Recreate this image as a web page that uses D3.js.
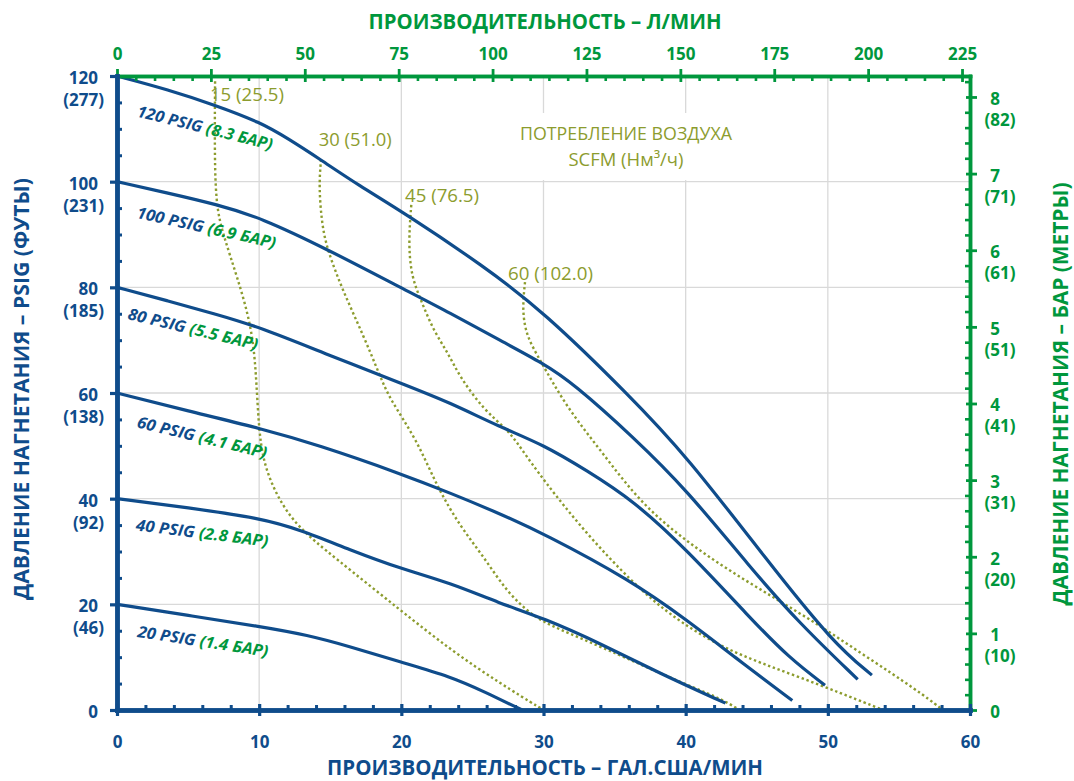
<!DOCTYPE html>
<html><head><meta charset="utf-8">
<script src="https://cdn.jsdelivr.net/npm/d3@7"></script>
<style>
body{margin:0;background:#fff}
svg{display:block}
text{font-family:"Open Sans","Noto Sans",sans-serif}
</style>
</head><body>
<svg id="c" width="1074" height="781"></svg>
<script>
// ---------- DATA ----------
const gpmTicks = [0,10,20,30,40,50,60];
const lpmTicks = [0,25,50,75,100,125,150,175,200,225];
const psiTicks = [0,20,40,60,80,100,120];
const psiFeet  = ["","(46)","(92)","(138)","(185)","(231)","(277)"];
const barTicks = [0,1,2,3,4,5,6,7,8];
const barMeters= ["","(10)","(20)","(31)","(41)","(51)","(61)","(71)","(82)"];

const pressureLevels = [120,100,80,60,40,20];
const pressureBar    = ["8.3","6.9","5.5","4.1","2.8","1.4"];

// flow (US GPM), discharge pressure (psig)
const curve120 = [[0,120],[3.5,117.5],[7,114.4],[10.1,111.2],[12,108.2],[14.3,104.2],[17,99.3],[20.2,94.1],[25.8,84.0],[30,75.4],[35.9,59.9],[40.1,48.0],[45.7,28.4],[50.4,12.6],[53.1,6.6]];
const curve100 = [[0,100],[3.5,97.9],[7,95.7],[10.1,93.2],[14.8,87.2],[20.2,79.6],[23.4,75.2],[26.9,70.0],[30,65.6],[32.1,61.8],[36.3,51.7],[40.1,41.6],[44.5,27.1],[48,16.4],[52.1,5.8]];
const curve80  = [[0,80],[3.5,77.5],[7,74.9],[10.1,72.4],[14.5,67.6],[20.2,61.6],[23.4,58.2],[26.9,53.6],[30,50.2],[33,45.4],[36.3,39.7],[40.1,30.3],[44.5,17.5],[47.3,9.8],[49.8,4.7]];
const curve60  = [[0,60],[5,56.6],[10.1,53.3],[14.1,50.2],[19.9,44.8],[23.5,41.0],[26.9,37.2],[30,33.4],[36.1,24.6],[40.1,17.0],[43.4,10.1],[47.5,1.8]];
const curve40  = [[0,40],[5,38.3],[10.1,36.3],[12.9,34.1],[16.4,30.3],[19.9,26.8],[23.5,24.0],[26.9,20.2],[30,17.4],[34,12.6],[38.2,6.9],[42.8,1.3]];
const curve20  = [[0,20],[5,17.9],[10.1,15.8],[13.4,14.2],[16.4,12.0],[19.9,9.1],[23.5,6.3],[25.8,3.5],[28.5,0]];
const pressureCurves = [curve120,curve100,curve80,curve60,curve40,curve20];

const airLevels = [15,30,45,60];
const airNm3    = ["25.5","51.0","76.5","102.0"];
const air15 = [[6.9,119],[6.87,108.6],[6.92,95.7],[7.5,89.7],[8.44,82.1],[9.5,72.4],[9.8,63],[9.96,53.6],[10.3,46.7],[11.25,40.4],[12.66,34.7],[15.24,29.0],[19.93,18.9],[23.45,11.4],[26.96,5.0],[30,0]];
const air30 = [[14.35,104.2],[14.2,99.2],[14.4,92.2],[14.77,87.2],[15.94,79],[17.35,70.8],[18.5,63.2],[19.2,58.8],[21.1,51.1],[22.5,42.3],[24.15,34.7],[25.8,29.0],[27.4,22.4],[29.3,17.6],[31,15.4],[34,12.0],[36.5,9.0],[38.2,7.0],[40.5,4.3],[42.5,2.1],[43.8,0]];
const air45 = [[20.7,95.6],[20.5,88.5],[20.7,82],[21.45,77.1],[22.25,71.9],[23.3,67.5],[24.1,63.1],[25.8,56.8],[27.5,53.0],[28.35,49.8],[30,43.5],[33,33.4],[36.1,24.6],[38.7,18.3],[42.65,11.4],[48,6.3],[53.9,0]];
const air60 = [[28.7,81.0],[28.5,75.7],[28.8,70.7],[29.75,66.3],[31.6,57.4],[34,49.2],[36.3,41.0],[38.7,34.7],[42.2,27.8],[45.7,22.1],[49.2,16.4],[52.7,10.1],[56.25,3.8],[58.1,0]];
const airCurves = [air15,air30,air45,air60];

// ---------- LAYOUT / STYLE ----------
const BLUE="#0f4c8b", GREEN="#00973d", OLIVE="#8c9c2e", GRID="#d9d9d9";
const LPM=3.78541, PSI_PER_BAR=14.5038;
const svg=d3.select("#c");
const x=d3.scaleLinear().domain([0,60]).range([117,970]);
const y=d3.scaleLinear().domain([0,120]).range([710,76]);
const xTop=d3.scaleLinear().domain([0,60*LPM]).range([117,970]);
const yRight=d3.scaleLinear().domain([0,120/PSI_PER_BAR]).range([710,76]);

function setLen(t,w){return t.attr("textLength",w).attr("lengthAdjust","spacingAndGlyphs");}

// grid
svg.append("g").selectAll("line").data([10,20,30,40,50]).join("line")
  .attr("x1",d=>x(d)).attr("x2",d=>x(d)).attr("y1",y(0)).attr("y2",y(120))
  .attr("stroke",GRID).attr("stroke-width",1.3);
svg.append("g").selectAll("line").data([20,40,60,80,100]).join("line")
  .attr("x1",x(0)).attr("x2",x(60)).attr("y1",d=>y(d)).attr("y2",d=>y(d))
  .attr("stroke",GRID).attr("stroke-width",1.3);
// white box behind air consumption title
svg.append("rect").attr("x",x(27.4)).attr("y",y(113)).attr("width",x(44.2)-x(27.4)).attr("height",y(100.3)-y(113)).attr("fill","#fff");

const line=d3.line().x(d=>x(d[0])).y(d=>y(d[1])).curve(d3.curveBasis);

// air consumption curves
svg.append("g").selectAll("path").data(airCurves).join("path")
  .attr("d",line).attr("fill","none").attr("stroke",OLIVE)
  .attr("stroke-width",2.4).attr("stroke-dasharray","2.4,2.7");

// pressure curves
svg.append("g").selectAll("path").data(pressureCurves).join("path")
  .attr("d",line).attr("fill","none").attr("stroke",BLUE).attr("stroke-width",3.2);

// pressure labels
const plGpm=[6.2,6.3,5.35,6.0,6.0,6.05], plPsi=[110.2,91.3,72.1,51.6,33.5,13.0];
const plAngle=[14,12.5,13.5,13.5,7,8.7], plLen=[139,142,133,133,133,132];
pressureLevels.forEach((p,i)=>{
  const t=svg.append("text").attr("font-size",16).attr("font-weight","bold").attr("font-style","italic")
    .attr("text-anchor","middle").attr("dy","0.35em")
    .attr("transform",`translate(${x(plGpm[i])},${y(plPsi[i])}) rotate(${plAngle[i]})`);
  t.append("tspan").attr("fill",BLUE).text(`${p} PSIG `);
  t.append("tspan").attr("fill",GREEN).text(`(${pressureBar[i]} БАР)`);
  setLen(t,plLen[i]);
});

// air labels
const alGpm=[6.54,14.19,20.26,27.5], alPsi=[115.2,106.8,96.2,81.4], alLen=[74,73,74,85];
airLevels.forEach((a,i)=>{
  const t=svg.append("text").attr("x",x(alGpm[i])).attr("y",y(alPsi[i]))
    .attr("font-size",17.5).attr("fill",OLIVE).text(`${a} (${airNm3[i]})`);
  setLen(t,alLen[i]);
});
setLen(svg.append("text").attr("x",626).attr("y",140).attr("text-anchor","middle")
  .attr("font-size",19).attr("fill",OLIVE).text("ПОТРЕБЛЕНИЕ ВОЗДУХА"),212);
setLen(svg.append("text").attr("x",626).attr("y",166).attr("text-anchor","middle")
  .attr("font-size",19).attr("fill",OLIVE).text("SCFM (Нм³/ч)"),115);

// ---------- AXES ----------
function range(a,b,s){const r=[];for(let v=a;v<=b+1e-9;v+=s)r.push(+v.toFixed(4));return r;}
const lpmMinor=range(0,225,5).filter(v=>v%25!==0);
const barMinor=range(0,8.2,0.2).filter(v=>Math.abs(v-Math.round(v))>1e-6);
const psiMinor=range(0,120,5).filter(v=>v%20!==0);
const gpmMinor=range(0,60,2).filter(v=>v%10!==0);

function styleAxis(g,color,dw,tw){
  g.select(".domain").attr("stroke",color).attr("stroke-width",dw).attr("stroke-linecap","square");
  g.selectAll(".tick line").attr("stroke",color).attr("stroke-width",tw);
  g.selectAll(".tick text").remove();
}
// top (green)
const gTm=svg.append("g").attr("transform",`translate(0,${y(120)})`)
  .call(d3.axisTop(xTop).tickValues(lpmMinor).tickSize(-5).tickSizeOuter(0)); styleAxis(gTm,GREEN,3.5,2.6);
const gT=svg.append("g").attr("transform",`translate(0,${y(120)})`)
  .call(d3.axisTop(xTop).tickValues(lpmTicks).tickSize(7).tickSizeOuter(0)); styleAxis(gT,GREEN,3.5,2.8);
gT.selectAll(".tick line").attr("y1",6);
gT.selectAll(".tick").append("text").attr("y",-16).attr("text-anchor","middle")
  .attr("font-size",17).attr("font-weight","bold").attr("fill",GREEN).text(d=>d);
// right (green)
const gRm=svg.append("g").attr("transform",`translate(${x(60)},0)`)
  .call(d3.axisRight(yRight).tickValues(barMinor).tickSize(-5).tickSizeOuter(0)); styleAxis(gRm,GREEN,3.5,2.6);
const gR=svg.append("g").attr("transform",`translate(${x(60)},0)`)
  .call(d3.axisRight(yRight).tickValues(barTicks).tickSize(7).tickSizeOuter(0)); styleAxis(gR,GREEN,3.5,2.8);
gR.selectAll(".tick line").attr("x1",-4);
barTicks.forEach((b,i)=>{
  svg.append("text").attr("x",995).attr("y",yRight(b)+8).attr("text-anchor","middle")
    .attr("font-size",17).attr("font-weight","bold").attr("fill",GREEN).text(b);
  if(barMeters[i]) svg.append("text").attr("x",1000).attr("y",yRight(b)+29).attr("text-anchor","middle")
    .attr("font-size",17).attr("font-weight","bold").attr("fill",GREEN).text(barMeters[i]);
});
// left (blue)
const gLm=svg.append("g").attr("transform",`translate(${x(0)},0)`)
  .call(d3.axisLeft(y).tickValues(psiMinor).tickSize(-5).tickSizeOuter(0)); styleAxis(gLm,BLUE,4.5,3);
const gL=svg.append("g").attr("transform",`translate(${x(0)},0)`)
  .call(d3.axisLeft(y).tickValues(psiTicks).tickSize(7).tickSizeOuter(0)); styleAxis(gL,BLUE,4.5,3.2);
psiTicks.forEach((p,i)=>{
  svg.append("text").attr("x",98).attr("y",y(p)+8).attr("text-anchor","end")
    .attr("font-size",17).attr("font-weight","bold").attr("fill",BLUE).text(p);
  if(psiFeet[i]) svg.append("text").attr("x",104).attr("y",y(p)+30).attr("text-anchor","end")
    .attr("font-size",17).attr("font-weight","bold").attr("fill",BLUE).text(psiFeet[i]);
});
// bottom (blue)
const gBm=svg.append("g").attr("transform",`translate(0,${y(0)})`)
  .call(d3.axisBottom(x).tickValues(gpmMinor).tickSize(-5).tickSizeOuter(0)); styleAxis(gBm,BLUE,4.5,3);
const gB=svg.append("g").attr("transform",`translate(0,${y(0)})`)
  .call(d3.axisBottom(x).tickValues(gpmTicks).tickSize(6).tickSizeOuter(0)); styleAxis(gB,BLUE,4.5,3.2);
gB.selectAll(".tick line").attr("y1",-6);
gB.selectAll(".tick").append("text").attr("y",38).attr("text-anchor","middle")
  .attr("font-size",17).attr("font-weight","bold").attr("fill",BLUE).text(d=>d);

// titles
setLen(svg.append("text").attr("x",545).attr("y",29).attr("text-anchor","middle")
  .attr("font-size",21.5).attr("font-weight","bold").attr("fill",GREEN).text("ПРОИЗВОДИТЕЛЬНОСТЬ – Л/МИН"),353);
setLen(svg.append("text").attr("x",545).attr("y",775).attr("text-anchor","middle")
  .attr("font-size",22).attr("font-weight","bold").attr("fill",BLUE).text("ПРОИЗВОДИТЕЛЬНОСТЬ – ГАЛ.США/МИН"),436);
setLen(svg.append("text").attr("transform","translate(29,389) rotate(-90)").attr("text-anchor","middle")
  .attr("font-size",21).attr("font-weight","bold").attr("fill",BLUE).text("ДАВЛЕНИЕ НАГНЕТАНИЯ – PSIG (ФУТЫ)"),422);
setLen(svg.append("text").attr("transform","translate(1068,394) rotate(-90)").attr("text-anchor","middle")
  .attr("font-size",21).attr("font-weight","bold").attr("fill",GREEN).text("ДАВЛЕНИЕ НАГНЕТАНИЯ – БАР (МЕТРЫ)"),423);
</script>
</body></html>
